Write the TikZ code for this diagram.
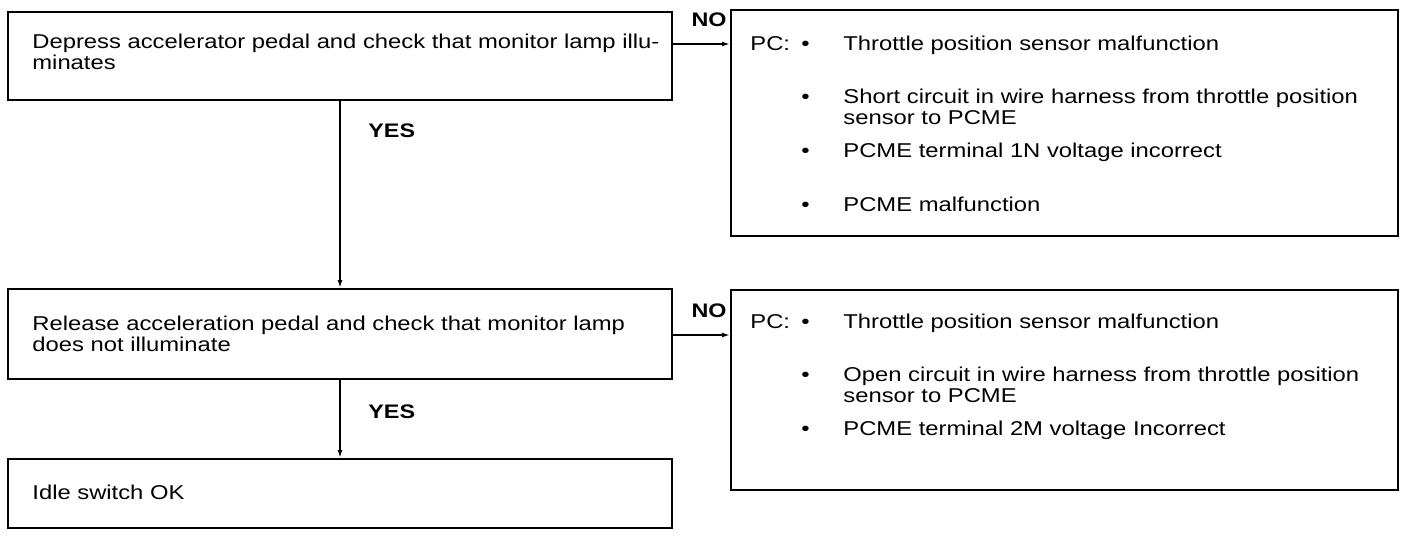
\documentclass[tikz,border=0pt]{standalone}
\usepackage{fontspec}
\setmainfont{Liberation Sans}[FakeStretch=1.19]
\usetikzlibrary{arrows.meta}

\begin{document}
\begin{tikzpicture}[x=0.5pt, y=-0.5pt,
    flowbox/.style={draw, line width=1pt, inner sep=0pt},
    txt/.style={anchor=base west, inner sep=0pt, font=\fontsize{10}{12}\selectfont},
    lbl/.style={inner sep=0pt, font=\bfseries\fontsize{9.8}{12}\selectfont},
    arr/.style={line width=0.8pt, -{Latex[length=4pt,width=2.5pt]}}]
    \useasboundingbox (0,0) rectangle (1408,536);

    % Check steps
    \node[flowbox, minimum width=332pt, minimum height=44pt] (q1) at (340,56) {};
    \node[txt] (q1a) at (32,48) {Depress accelerator pedal and check that monitor lamp illu-};
    \node[txt] (q1b) at (32,69) {minates};

    \node[flowbox, minimum width=332pt, minimum height=45pt] (q2) at (340,334) {};
    \node[txt] (q2a) at (32,330) {Release acceleration pedal and check that monitor lamp};
    \node[txt] (q2b) at (32,351) {does not illuminate};

    \node[flowbox, minimum width=332pt, minimum height=34.5pt] (ok) at (340,493.5) {};
    \node[txt] (oka) at (32,499) {Idle switch OK};

    % Possible causes
    \node[flowbox, minimum width=333.5pt, minimum height=113pt] (pc1) at (1064.5,123) {};
    \node[txt] (pc1h) at (750,50) {PC:};
    \foreach \y/\t [count=\i] in {50/Throttle position sensor malfunction,
        103/Short circuit in wire harness from throttle position,
        157/PCME terminal 1N voltage incorrect,
        211/PCME malfunction} {
        \node[txt] (pc1b\i) at (801,\y) {\textbullet};
        \node[txt] (pc1t\i) at (843,\y) {\t};
    }
    \node[txt] (pc1s) at (843,124) {sensor to PCME};

    \node[flowbox, minimum width=333.5pt, minimum height=100pt] (pc2) at (1064.5,390) {};
    \node[txt] (pc2h) at (750,328) {PC:};
    \foreach \y/\t [count=\i] in {328/Throttle position sensor malfunction,
        381/Open circuit in wire harness from throttle position,
        435/PCME terminal 2M voltage Incorrect} {
        \node[txt] (pc2b\i) at (801,\y) {\textbullet};
        \node[txt] (pc2t\i) at (843,\y) {\t};
    }
    \node[txt] (pc2s) at (843,402) {sensor to PCME};

    % Connectors
    \coordinate (y1) at (0,44);
    \coordinate (y2) at (0,335);
    \draw[arr] (q1.east |- y1) -- (pc1.west |- y1);
    \draw[arr] (q2.east |- y2) -- (pc2.west |- y2);
    \draw[arr] (q1.south) -- (q2.north);
    \draw[arr] (q2.south) -- (ok.north);

    \node[lbl, anchor=base east] (no1) at (727,26) {NO};
    \node[lbl, anchor=base east] (no2) at (727,317) {NO};
    \node[lbl, anchor=base west] (yes1) at (368,137) {YES};
    \node[lbl, anchor=base west] (yes2) at (368,418) {YES};
\end{tikzpicture}
\end{document}
